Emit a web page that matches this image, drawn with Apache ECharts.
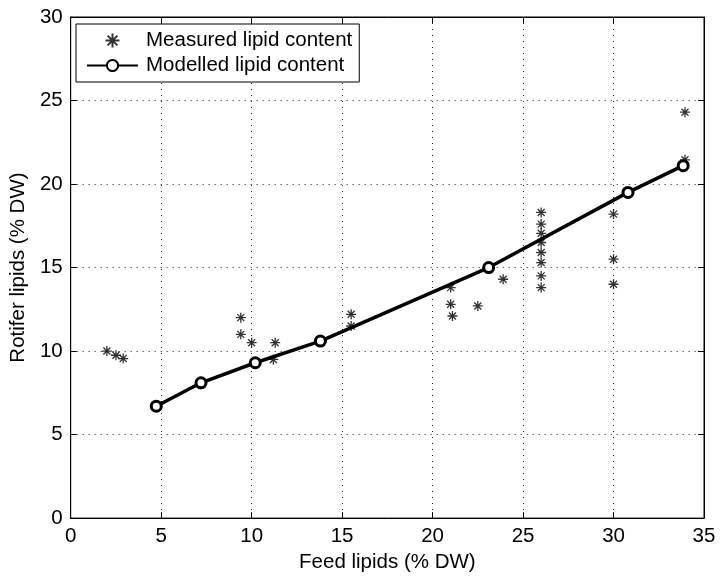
<!DOCTYPE html>
<html>
<head>
<meta charset="utf-8">
<script src="https://cdn.jsdelivr.net/npm/echarts@6/dist/echarts.min.js"></script>
<style>
html,body{margin:0;padding:0;background:#fff;}
#chart{width:720px;height:578px;}
</style>
</head>
<body>
<div id="chart"></div>
<script>
const measuredX = [2.0, 2.5, 2.9, 9.4, 9.4, 10.0, 11.3, 11.2, 15.5, 15.5, 21.0, 21.0, 21.1, 22.5, 23.9, 26.0, 26.0, 26.0, 26.0, 26.0, 26.0, 26.0, 26.0, 30.0, 30.0, 30.0, 33.95, 33.95];
const measuredY = [10.0, 9.75, 9.55, 12.0, 11.0, 10.5, 10.5, 9.5, 12.2, 11.5, 13.8, 12.8, 12.1, 12.7, 14.3, 18.3, 17.6, 17.05, 16.5, 15.9, 15.3, 14.5, 13.8, 18.2, 15.5, 14.0, 24.3, 21.45];
const modelX = [4.73, 7.2, 10.2, 13.8, 23.1, 30.8, 33.85];
const modelY = [6.7, 8.1, 9.3, 10.6, 15.0, 19.5, 21.1];
const xTicks = {min: 0, max: 35, interval: 5};
const yTicks = {min: 0, max: 30, interval: 5};

const measured = measuredX.map((x, i) => [x, measuredY[i]]);
const modelled = modelX.map((x, i) => [x, modelY[i]]);

const font = 'Liberation Sans, Arial, Helvetica, sans-serif';
const chart = echarts.init(document.getElementById('chart'), null, {renderer: 'canvas'});
const starPath = 'path://M5,0L5,10M0,5L10,5M1.5,1.5L8.5,8.5M1.5,8.5L8.5,1.5';

const tickCommon = {show: true, inside: true, length: 6, lineStyle: {color: '#000', width: 1}};
chart.setOption({
  animation: false,
  backgroundColor: '#fff',
  grid: {left: 67, right: 16, top: 17, bottom: 59, show: true, borderColor: '#000', borderWidth: 1, containLabel: false},
  legend: {
    orient: 'vertical', left: 76, top: 24,
    backgroundColor: '#fff', borderColor: '#000', borderWidth: 1,
    padding: [6, 7, 6, 10], itemWidth: 51, itemHeight: 14, itemGap: 4,
    textStyle: {fontSize: 20.5, color: '#000', fontFamily: font, padding: [0, 0, 0, 3]},
    data: ['Measured lipid content', 'Modelled lipid content']
  },
  xAxis: [{
    type: 'value', min: xTicks.min, max: xTicks.max, interval: xTicks.interval,
    name: 'Feed lipids (% DW)', nameLocation: 'middle', nameGap: 33,
    nameTextStyle: {fontSize: 20.5, color: '#000', fontFamily: font},
    axisLine: {show: true, onZero: false, lineStyle: {color: '#000', width: 1}},
    axisTick: tickCommon,
    axisLabel: {fontSize: 20.5, color: '#000', fontFamily: font, margin: 8},
    splitLine: {show: true, lineStyle: {color: '#222', type: [1, 5], width: 1}}
  }, {
    type: 'value', position: 'top', min: xTicks.min, max: xTicks.max, interval: xTicks.interval,
    axisLine: {show: true, onZero: false, lineStyle: {color: '#000', width: 1}},
    axisTick: tickCommon, axisLabel: {show: false}, splitLine: {show: false}
  }],
  yAxis: [{
    type: 'value', min: yTicks.min, max: yTicks.max, interval: yTicks.interval,
    name: 'Rotifer lipids (% DW)', nameLocation: 'middle', nameGap: 40, nameRotate: 90,
    nameTextStyle: {fontSize: 20.5, color: '#000', fontFamily: font},
    axisLine: {show: true, onZero: false, lineStyle: {color: '#000', width: 1}},
    axisTick: tickCommon,
    axisLabel: {fontSize: 20.5, color: '#000', fontFamily: font, margin: 8},
    splitLine: {show: true, lineStyle: {color: '#222', type: [1, 5], width: 1}}
  }, {
    type: 'value', position: 'right', min: yTicks.min, max: yTicks.max, interval: yTicks.interval,
    axisLine: {show: true, onZero: false, lineStyle: {color: '#000', width: 1}},
    axisTick: tickCommon, axisLabel: {show: false}, splitLine: {show: false}
  }],
  series: [{
    name: 'Measured lipid content', type: 'scatter', data: measured,
    symbol: starPath, symbolSize: 10,
    itemStyle: {color: '#000', borderColor: '#000', borderWidth: 1.3},
    z: 2
  }, {
    name: 'Modelled lipid content', type: 'line', data: modelled,
    symbol: 'circle', symbolSize: 10, showAllSymbol: true,
    lineStyle: {color: '#000', width: 3.5},
    itemStyle: {color: '#fff', borderColor: '#000', borderWidth: 3},
    z: 3
  }]
});
</script>
</body>
</html>
